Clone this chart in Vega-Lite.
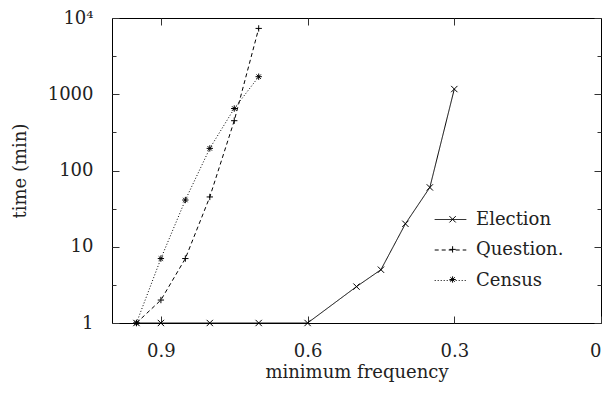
{
  "$schema": "https://vega.github.io/schema/vega-lite/v6.json",
  "width": 489,
  "height": 305,
  "autosize": {"type": "none"},
  "padding": {"left": 112, "top": 18, "right": 8, "bottom": 71},
  "background": "white",
  "view": {"stroke": "black", "strokeWidth": 1},
  "config": {
    "font": "DejaVu Serif",
    "axis": {
      "labelFont": "DejaVu Serif",
      "titleFont": "DejaVu Serif",
      "labelFontSize": 18,
      "titleFontSize": 18,
      "titleFontWeight": "normal",
      "labelColor": "#222",
      "titleColor": "#222",
      "grid": false,
      "domain": false,
      "tickColor": "#333",
      "tickWidth": 1
    },
    "legend": {
      "labelFont": "DejaVu Serif",
      "labelFontSize": 18,
      "labelColor": "#222",
      "orient": "none",
      "padding": 0,
      "symbolStrokeColor": "black",
      "symbolFillColor": "transparent",
      "symbolStrokeWidth": 1
    }
  },
  "data": {
    "values": [
      {"series": "Election", "freq": 0.95, "time": 1},
      {"series": "Election", "freq": 0.9, "time": 1},
      {"series": "Election", "freq": 0.8, "time": 1},
      {"series": "Election", "freq": 0.7, "time": 1},
      {"series": "Election", "freq": 0.6, "time": 1},
      {"series": "Election", "freq": 0.5, "time": 3},
      {"series": "Election", "freq": 0.45, "time": 5},
      {"series": "Election", "freq": 0.4, "time": 20},
      {"series": "Election", "freq": 0.35, "time": 60},
      {"series": "Election", "freq": 0.3, "time": 1170},
      {"series": "Question.", "freq": 0.95, "time": 1},
      {"series": "Question.", "freq": 0.9, "time": 2},
      {"series": "Question.", "freq": 0.85, "time": 7},
      {"series": "Question.", "freq": 0.8, "time": 45},
      {"series": "Question.", "freq": 0.75, "time": 450},
      {"series": "Question.", "freq": 0.7, "time": 7300},
      {"series": "Census", "freq": 0.95, "time": 1},
      {"series": "Census", "freq": 0.9, "time": 7},
      {"series": "Census", "freq": 0.85, "time": 41},
      {"series": "Census", "freq": 0.8, "time": 195},
      {"series": "Census", "freq": 0.75, "time": 650},
      {"series": "Census", "freq": 0.7, "time": 1700}
    ]
  },
  "resolve": {"axis": {"x": "independent", "y": "independent"}},
  "layer": [
    {
      "mark": {"type": "line", "strokeWidth": 1, "color": "black"},
      "encoding": {
        "x": {
          "field": "freq", "type": "quantitative",
          "scale": {"domain": [0, 1], "reverse": true, "nice": false},
          "axis": {"orient": "bottom", "values": [0, 0.3, 0.6, 0.9], "format": "~g", "tickSize": -7, "labelPadding": 26, "title": "minimum frequency", "titlePadding": 3}
        },
        "y": {
          "field": "time", "type": "quantitative",
          "scale": {"type": "log", "domain": [1, 10000], "nice": false},
          "axis": {
            "orient": "left",
            "values": [1, 3.1623, 10, 31.623, 100, 316.23, 1000, 3162.3, 10000],
            "labelExpr": "datum.value == 10000 ? '10⁴' : (abs(log(datum.value)/LN10 - round(log(datum.value)/LN10)) > 0.1 ? '' : format(datum.value, 'd'))",
            "tickSize": {"condition": {"test": "abs(log(datum.value)/LN10 - round(log(datum.value)/LN10)) > 0.1", "value": -4}, "value": -7},
            "labelPadding": 26,
            "title": "time (min)",
            "titlePadding": 18
          }
        },
        "strokeDash": {
          "field": "series", "type": "nominal",
          "scale": {"domain": ["Election", "Question.", "Census"], "range": [[1, 0], [4, 3], [1, 2]]},
          "legend": {
            "title": null,
            "legendX": 322,
            "legendY": 185,
            "symbolType": "stroke",
            "symbolSize": 1000,
            "rowPadding": 4.5,
            "labelOffset": 9
          }
        }
      }
    },
    {
      "mark": {"type": "point", "filled": false, "color": "black", "strokeWidth": 1, "size": 40, "opacity": 1},
      "encoding": {
        "x": {
          "field": "freq", "type": "quantitative",
          "axis": {"orient": "top", "values": [0.3, 0.6, 0.9], "tickSize": -7, "labels": false, "title": null}
        },
        "y": {
          "field": "time", "type": "quantitative",
          "axis": {
            "orient": "right",
            "values": [1, 3.1623, 10, 31.623, 100, 316.23, 1000, 3162.3, 10000],
            "tickSize": {"condition": {"test": "abs(log(datum.value)/LN10 - round(log(datum.value)/LN10)) > 0.1", "value": -4}, "value": -7},
            "labels": false,
            "title": null
          }
        },
        "shape": {
          "field": "series", "type": "nominal",
          "scale": {
            "range": ["M-1,0L1,0M0,-1L0,1M-0.7,-0.7L0.7,0.7M-0.7,0.7L0.7,-0.7", "M-1,-1L1,1M-1,1L1,-1", "M-1,0L1,0M0,-1L0,1"]
          },
          "legend": {
            "title": null,
            "values": ["Election", "Question.", "Census"],
            "legendX": 331.6,
            "legendY": 192.3,
            "symbolSize": 40,
            "rowPadding": 12.1,
            "labelExpr": "''",
            "labelOpacity": 0
          }
        }
      }
    }
  ]
}
